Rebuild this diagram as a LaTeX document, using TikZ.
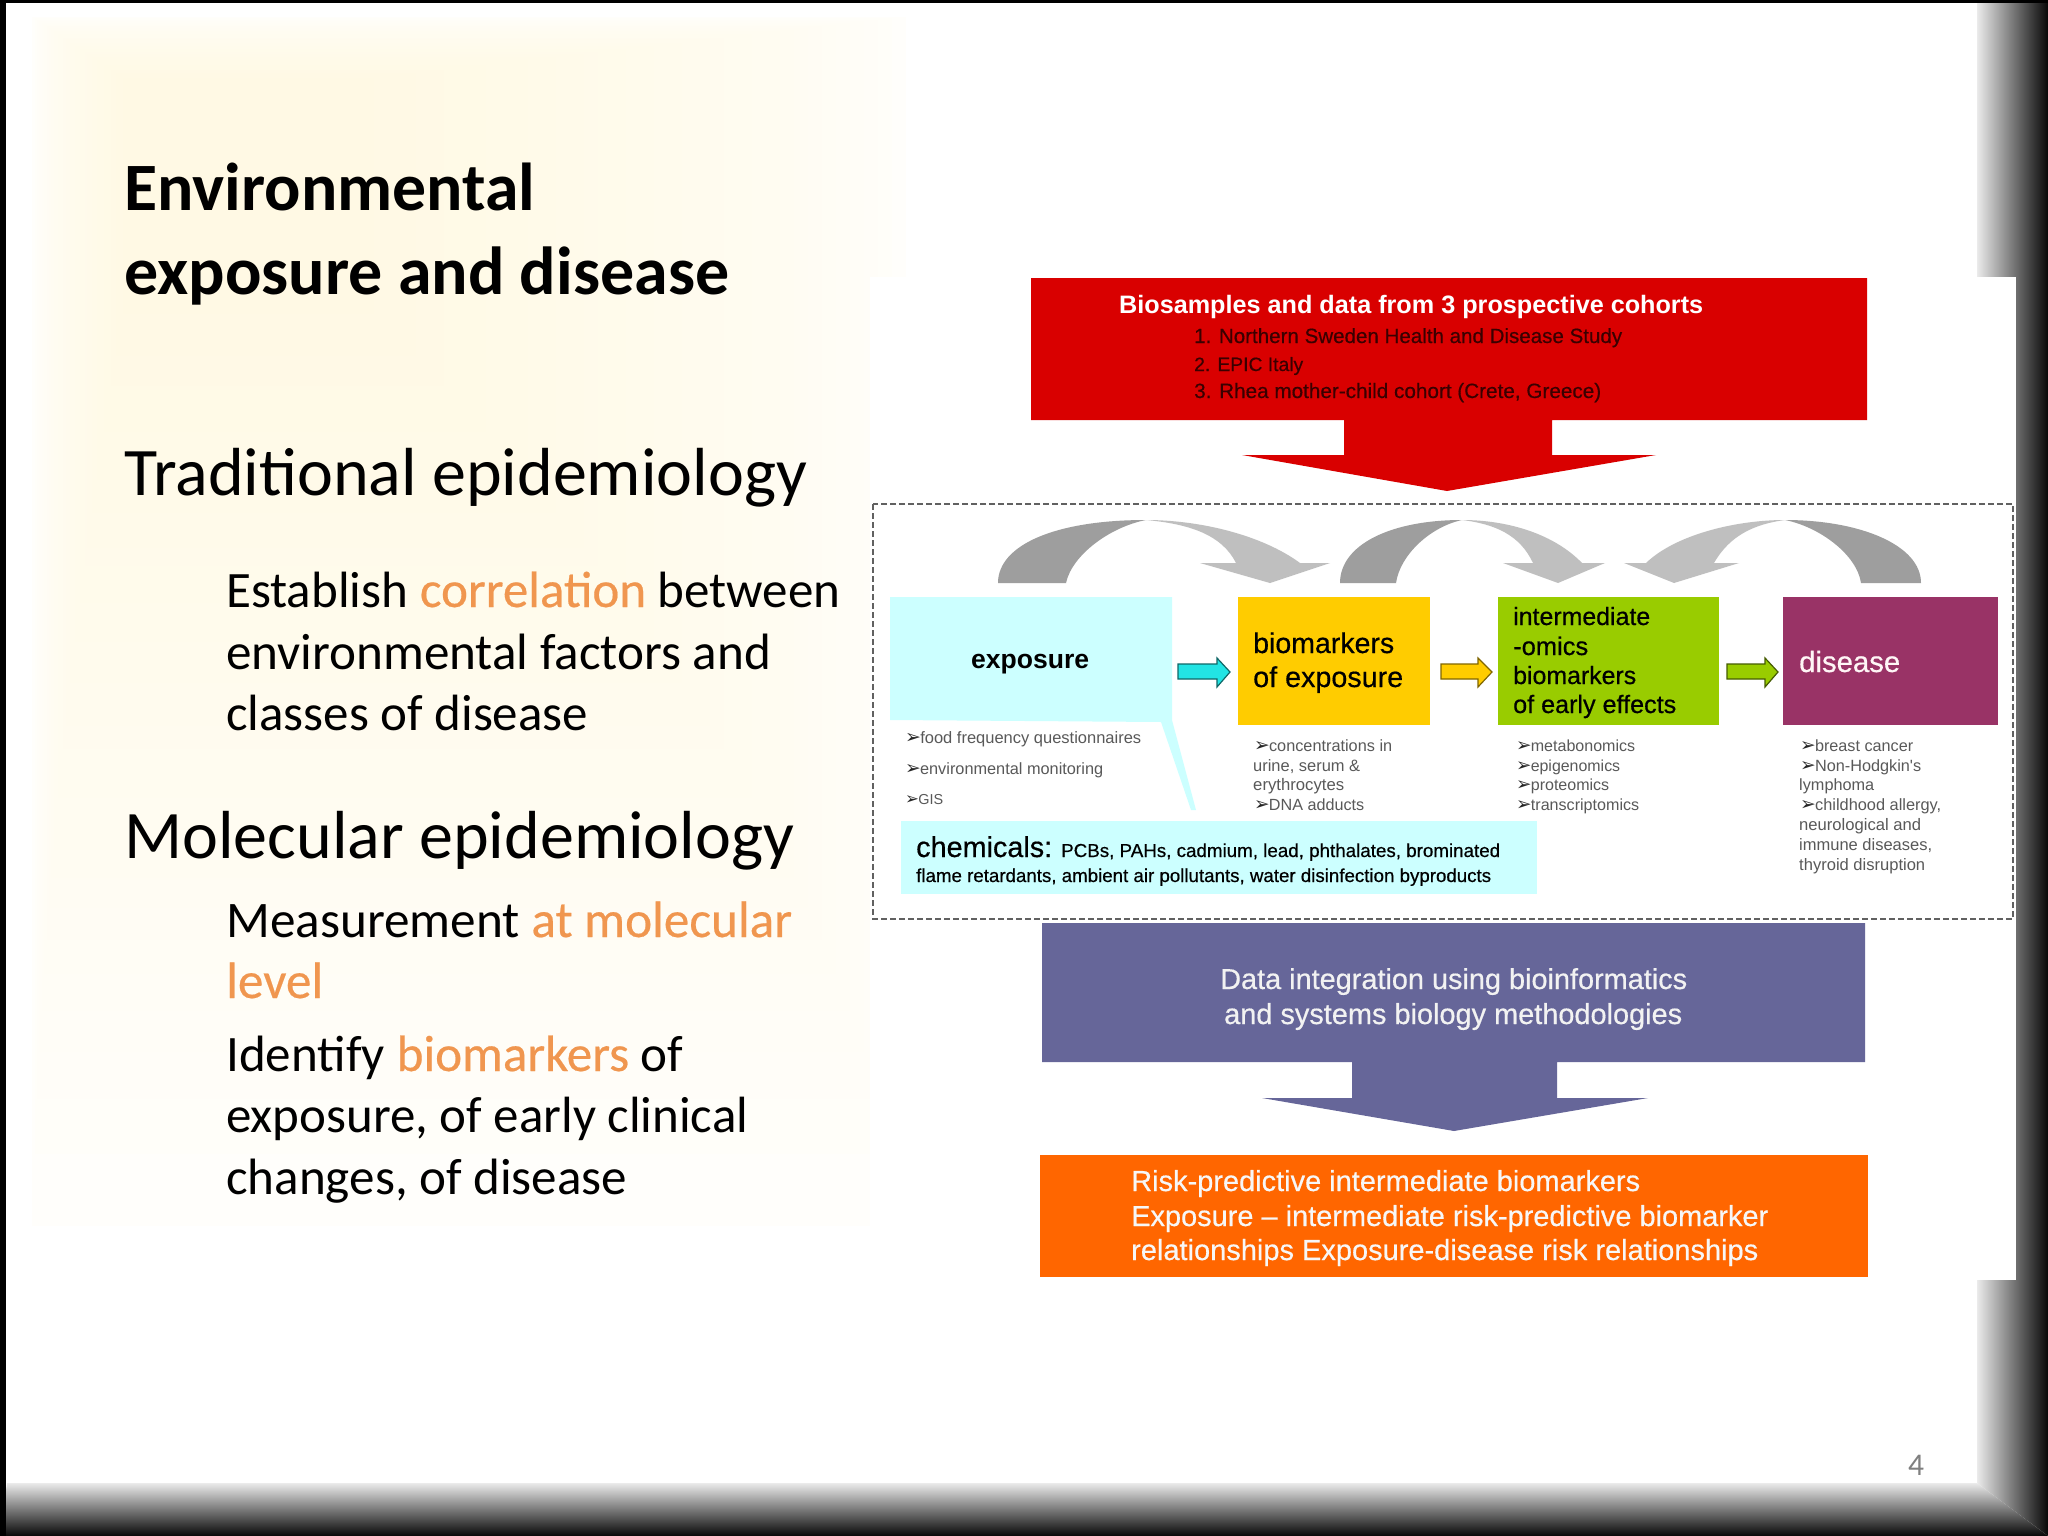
\documentclass[tikz,border=0pt]{standalone}
\usepackage{fontspec}
\usepackage{graphicx}
\setmainfont{Carlito}
\newfontfamily\lib{Liberation Sans}
\newfontfamily\libh[FakeBold=0.5]{Liberation Sans}
\newfontfamily\dv{DejaVu Sans}
\newfontfamily\carh[FakeBold=0.4]{Carlito}
\definecolor{paleY}{HTML}{FFF9E4}
\definecolor{hl}{HTML}{F0964F}
\definecolor{redbox}{HTML}{D90000}
\definecolor{purplebox}{HTML}{666699}
\definecolor{orangebox}{HTML}{FF6600}
\definecolor{cyanbox}{HTML}{CCFFFF}
\definecolor{yellowbox}{HTML}{FFCC00}
\definecolor{greenbox}{HTML}{99CC00}
\definecolor{diseasebox}{HTML}{993366}
\definecolor{darkred}{HTML}{3A0000}
\definecolor{cyanarrow}{HTML}{22E4E4}
\newcommand{\TW}[2]{\resizebox{#1pt}{!}{#2}}
\newcommand{\ck}{{\dv\fontsize{23}{24}\selectfont\textcolor{black!85}{➢}\kern-1pt}}
\newcommand{\HL}[1]{\textcolor{hl}{\carh #1}}
\tikzset{
  lefttxt/.style={inner sep=0pt,anchor=base west,font=\fontsize{40}{48}\selectfont,text=black},
  dtxt/.style={inner sep=0pt,anchor=base west,font=\lib\fontsize{20}{24}\selectfont,text=black},
  htxt/.style={inner sep=0pt,anchor=base west,font=\libh\fontsize{20}{24}\selectfont,text=black},
  listtxt/.style={dtxt,text=black!65},
  graydark/.style={fill=black!38,draw=none},
  graylight/.style={fill=black!25,draw=none},
}
\begin{document}
\begin{tikzpicture}[x=1pt,y=-1pt]
\useasboundingbox (0,0) rectangle (2048,1536);
\fill[white] (0,0) rectangle (2048,1536);
% pale background
\foreach \i in {1,...,40}{
  \pgfmathsetmacro{\f}{\i/40}
  \pgfmathsetmacro{\p}{100*sqrt(\f)}
  \pgfmathsetmacro{\xa}{30+95*\f}
  \pgfmathsetmacro{\ya}{15+65*\f}
  \pgfmathsetmacro{\xb}{920-560*\f}
  \pgfmathsetmacro{\yb}{1400-1100*sqrt(\f)}
  \fill[paleY!\p!white] (\xa,\ya) rectangle (\xb,\yb);
}
% frame bands
\shade[left color=black!8,middle color=black!62,right color=black!97]
  (1977,3) -- (2048,0) -- (2048,1536) -- (1977,1483) -- cycle;
\shade[top color=black!8,middle color=black!62,bottom color=black!97]
  (7,1483) -- (1977,1483) -- (2048,1536) -- (0,1536) -- cycle;
\fill[black] (0,0) rectangle (2048,3);
\fill[black] (0,0) rectangle (6,1536);
% picture
\fill[white] (870,277) rectangle (2016,1280);
% red block
\fill[redbox] (1031,278) -- (1867,278) -- (1867,420) -- (1552,420) -- (1552,455) -- (1656,455) -- (1447,491) -- (1242,455) -- (1344,455) -- (1344,420) -- (1031,420) -- cycle;
% dashed frame
\draw[black!62,line width=1.6pt,dash pattern=on 6pt off 3pt] (873,504) rectangle (2013,919);
% curved gray arrows
\fill[graydark] (998,583) .. controls (998,545) and (1055,520) .. (1146,520) .. controls (1110,527) and (1072,555) .. (1066,583) -- cycle;
\fill[graylight] (1146,520) .. controls (1200,520) and (1262,535) .. (1300,563) -- (1330,563) -- (1270,583) -- (1200,563) -- (1236,563) .. controls (1222,535) and (1190,524) .. (1146,520) -- cycle;
\fill[graydark] (1340,583) .. controls (1340,545) and (1390,520) .. (1462,520) .. controls (1430,527) and (1400,555) .. (1396,583) -- cycle;
\fill[graylight] (1462,520) .. controls (1510,520) and (1555,535) .. (1582,563) -- (1605,563) -- (1558,583) -- (1503,563) -- (1533,563) .. controls (1520,535) and (1495,524) .. (1462,520) -- cycle;
\fill[graydark] (1921,583) .. controls (1921,545) and (1860,520) .. (1785,520) .. controls (1820,527) and (1857,555) .. (1861,583) -- cycle;
\fill[graylight] (1785,520) .. controls (1735,520) and (1675,535) .. (1646,563) -- (1624,563) -- (1674,583) -- (1739,563) -- (1714,563) .. controls (1730,535) and (1755,524) .. (1785,520) -- cycle;
% exposure callout
\fill[cyanbox] (890,597) -- (1172,597) -- (1172,720) -- (1196,810) -- (1191,810) -- (1161,722) -- (890,720) -- cycle;
\fill[cyanbox] (901,821) rectangle (1537,894);
% boxes
\fill[yellowbox] (1238,597) rectangle (1430,725);
\fill[greenbox] (1498,597) rectangle (1719,725);
\fill[diseasebox] (1783,597) rectangle (1998,725);
% small block arrows
\draw[fill=cyanarrow,draw=cyanarrow!45!black,line width=1.2pt] (1178,664) -- (1217,664) -- (1217,658) -- (1230,672) -- (1217,687) -- (1217,679) -- (1178,679) -- cycle;
\draw[fill=yellowbox,draw=yellowbox!50!black,line width=1.2pt] (1441,664) -- (1478,664) -- (1478,658) -- (1492,672) -- (1478,687) -- (1478,679) -- (1441,679) -- cycle;
\draw[fill=greenbox,draw=greenbox!45!black,line width=1.2pt] (1727,664) -- (1765,664) -- (1765,658) -- (1778,672) -- (1765,687) -- (1765,679) -- (1727,679) -- cycle;
% purple and orange blocks
\fill[purplebox] (1042,923) -- (1865,923) -- (1865,1062) -- (1557,1062) -- (1557,1098) -- (1648,1098) -- (1454,1131) -- (1262,1098) -- (1352,1098) -- (1352,1062) -- (1042,1062) -- cycle;
\fill[orangebox] (1040,1155) rectangle (1868,1277);
% left text
\node[lefttxt] (t1) at (124,211) {\TW{411}{\bfseries Environmental}};
\node[lefttxt] (t2) at (124,294) {\TW{605}{\bfseries exposure and disease}};
\node[lefttxt] (t3) at (124,495) {\TW{683}{Traditional epidemiology}};
\node[lefttxt] (t4) at (226,607) {\TW{614}{Establish \HL{correlation} between}};
\node[lefttxt] (t5) at (226,669) {\TW{545}{environmental factors and}};
\node[lefttxt] (t6) at (226,730) {\TW{362}{classes of disease}};
\node[lefttxt] (t7) at (124,858) {\TW{670}{Molecular epidemiology}};
\node[lefttxt] (t8) at (226,937) {\TW{566}{Measurement \HL{at molecular}}};
\node[lefttxt] (t9) at (226,998) {\TW{97}{\HL{level}}};
\node[lefttxt] (t10) at (226,1071) {\TW{457}{Identify \HL{biomarkers} of}};
\node[lefttxt] (t11) at (226,1132) {\TW{522}{exposure, of early clinical}};
\node[lefttxt] (t12) at (226,1194) {\TW{401}{changes, of disease}};
\node[lefttxt,text=black!50] (pg) at (1908,1475) {\TW{16}{4}};
% red text
\node[dtxt,text=white] (r0) at (1119,313) {\TW{584}{\bfseries Biosamples and data from 3 prospective cohorts}};
\node[htxt,text=darkred] (r1) at (1194,343) {\TW{428}{1. Northern Sweden Health and Disease Study}};
\node[htxt,text=darkred] (r2) at (1194,371) {\TW{109}{2. EPIC Italy}};
\node[htxt,text=darkred] (r3) at (1194,398) {\TW{407}{3. Rhea mother-child cohort (Crete, Greece)}};
% box text
\node[dtxt] (e0) at (971,668) {\TW{118}{\bfseries exposure}};
\node[htxt] (b0) at (1253,653) {\TW{141}{biomarkers}};
\node[htxt] (b1) at (1253,687) {\TW{150}{of exposure}};
\node[htxt] (i0) at (1513,625) {\TW{137}{intermediate}};
\node[htxt] (i1) at (1513,655) {\TW{75}{-omics}};
\node[htxt] (i2) at (1513,684) {\TW{123}{biomarkers}};
\node[htxt] (i3) at (1513,713) {\TW{163}{of early effects}};
\node[htxt,text=white!85!pink] (d0) at (1799,672) {\TW{101}{disease}};
% lists
\node[listtxt] (la) at (905,743) {\TW{236}{\ck food frequency questionnaires}};
\node[listtxt] (lb) at (905,774) {\TW{198}{\ck environmental monitoring}};
\node[listtxt] (lc) at (905,804) {\TW{38}{\ck GIS}};
\node[listtxt] (ma) at (1254,751) {\TW{138}{\ck concentrations in}};
\node[listtxt] (mb) at (1253,771) {\TW{107}{urine, serum \&}};
\node[listtxt] (mc) at (1253,790) {\TW{91}{erythrocytes}};
\node[listtxt] (md) at (1254,810) {\TW{110}{\ck DNA adducts}};
\node[listtxt] (na) at (1516,751) {\TW{119}{\ck metabonomics}};
\node[listtxt] (nb) at (1516,771) {\TW{104}{\ck epigenomics}};
\node[listtxt] (nc) at (1516,790) {\TW{93}{\ck proteomics}};
\node[listtxt] (nd) at (1516,810) {\TW{123}{\ck transcriptomics}};
\node[listtxt] (oa) at (1800,751) {\TW{113}{\ck breast cancer}};
\node[listtxt] (ob) at (1800,771) {\TW{121}{\ck Non-Hodgkin's}};
\node[listtxt] (oc) at (1799,790) {\TW{75}{lymphoma}};
\node[listtxt] (od) at (1800,810) {\TW{141}{\ck childhood allergy,}};
\node[listtxt] (oe) at (1799,830) {\TW{122}{neurological and}};
\node[listtxt] (of) at (1799,850) {\TW{133}{immune diseases,}};
\node[listtxt] (og) at (1799,870) {\TW{126}{thyroid disruption}};
% chemicals
\node[htxt] (c0) at (916,857) {\TW{136}{chemicals:}};
\node[htxt] (c1) at (1061,857) {\TW{439}{PCBs, PAHs, cadmium, lead, phthalates, brominated}};
\node[htxt] (c2) at (916,882) {\TW{575}{flame retardants, ambient air pollutants, water disinfection byproducts}};
% purple text
\node[htxt,text=black!5] (p0) at (1220,989) {\TW{467}{Data integration using bioinformatics}};
\node[htxt,text=black!5] (p1) at (1224,1024) {\TW{458}{and systems biology methodologies}};
% orange text
\node[htxt,text=black!3] (q0) at (1131,1191) {\TW{509}{Risk-predictive intermediate biomarkers}};
\node[htxt,text=black!3] (q1) at (1131,1226) {\TW{637}{Exposure – intermediate risk-predictive biomarker}};
\node[htxt,text=black!3] (q2) at (1131,1260) {\TW{627}{relationships Exposure-disease risk relationships}};
\end{tikzpicture}
\end{document}
